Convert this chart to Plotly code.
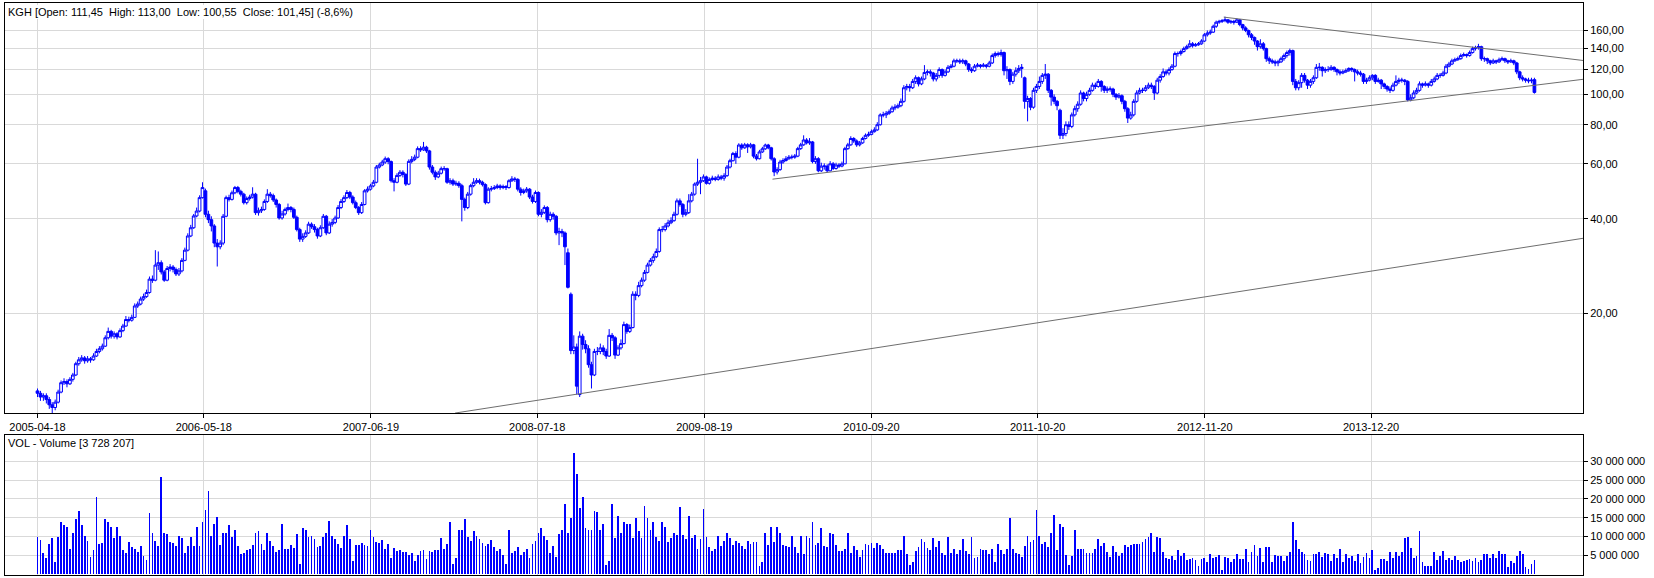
import pandas as pd
import plotly.graph_objects as go

# ---------------- data (weekly bars, KGH) ----------------
start_date = "2005-04-18"

open_ = [
11.3, 11.1, 10.8, 10.9, 10.6, 10.2, 10.0, 10.4, 11.2, 12.0,
12.1, 11.9, 12.3, 12.7, 13.8, 14.2, 14.4, 14.1, 14.3, 14.2,
14.6, 15.1, 15.4, 15.7, 16.7, 17.5, 16.9, 17.2, 16.8, 17.6,
18.2, 19.1, 19.0, 19.4, 21.1, 21.4, 22.2, 22.6, 23.3, 25.7,
25.5, 28.5, 29.0, 27.1, 25.5, 27.8, 28.1, 27.6, 26.7, 27.3,
29.5, 31.8, 35.3, 37.5, 40.9, 42.4, 46.8, 49.2, 41.4, 39.8,
38.0, 33.5, 32.6, 33.5, 40.8, 46.8, 46.2, 48.5, 50.4, 49.0,
48.0, 45.1, 46.5, 47.0, 48.0, 41.9, 42.5, 42.9, 45.5, 48.0,
47.5, 46.0, 44.5, 40.3, 41.5, 42.9, 43.5, 42.9, 40.5, 37.0,
34.5, 35.2, 36.1, 38.5, 37.8, 37.0, 35.3, 37.5, 40.8, 36.1,
38.5, 39.0, 40.3, 43.5, 45.5, 46.8, 48.6, 47.0, 45.1, 43.5,
41.9, 44.5, 49.2, 49.8, 51.0, 52.4, 58.6, 59.5, 60.8, 62.3,
61.0, 53.0, 52.4, 55.1, 56.4, 55.5, 51.7, 61.1, 62.0, 63.0,
67.1, 66.5, 67.8, 66.0, 58.6, 56.4, 54.5, 56.0, 57.9, 57.9,
52.4, 53.0, 51.7, 52.0, 51.1, 46.2, 43.5, 48.0, 51.1, 52.4,
53.0, 52.4, 51.5, 45.1, 49.8, 50.0, 50.4, 51.0, 50.4, 50.8,
50.4, 53.0, 53.7, 53.5, 49.8, 48.6, 49.2, 49.8, 47.0, 45.5,
48.6, 41.4, 42.0, 43.5, 39.8, 41.4, 40.8, 36.1, 36.5, 36.1,
31.2, 23.0, 15.2, 15.6, 11.0, 16.9, 15.9, 15.4, 13.7, 12.7,
15.1, 15.1, 15.5, 15.1, 14.6, 17.0, 16.7, 14.7, 15.5, 16.0,
18.4, 17.5, 18.0, 23.0, 22.8, 24.5, 25.5, 27.0, 28.5, 29.5,
30.3, 31.5, 37.0, 37.0, 38.0, 38.9, 39.5, 41.4, 45.7, 44.5,
41.4, 41.9, 45.7, 48.0, 51.7, 52.4, 53.0, 54.5, 52.0, 53.5,
54.0, 53.5, 54.5, 54.0, 55.0, 58.6, 61.4, 64.7, 63.0, 68.9,
67.5, 69.0, 68.0, 69.0, 63.5, 62.3, 65.5, 67.0, 68.9, 67.5,
62.3, 56.5, 57.5, 60.8, 61.5, 62.3, 63.0, 63.0, 63.5, 67.1,
69.0, 71.5, 70.0, 70.5, 61.0, 62.3, 57.0, 59.0, 59.0, 57.0,
60.0, 58.0, 59.5, 59.0, 60.0, 67.1, 69.0, 72.3, 71.0, 69.0,
70.0, 72.3, 74.0, 74.5, 76.0, 77.0, 80.0, 86.0, 86.0, 87.0,
88, 90.5, 91, 92, 95, 105, 106, 105, 110, 113,
108, 112, 117.5, 118, 117, 112, 115, 120, 115, 118,
122, 123, 128, 128, 127, 128, 125, 120, 119, 123,
124, 123, 124, 123, 126, 133, 135, 134, 136, 119,
120, 110, 116, 119, 121, 113, 95, 97, 91, 103,
106, 110, 115, 116, 103, 98, 95, 89, 74, 75,
80, 79, 86, 90, 93, 101, 97, 100, 103, 107,
106, 110, 106, 103, 104, 104, 100, 98, 99, 95,
90, 84, 86, 95, 101, 103, 103, 105, 107, 106,
101, 111, 114, 118, 117, 120, 123, 135, 135, 137,
140, 142, 145, 143, 144, 145, 148, 155, 157, 158,
165, 170, 171, 172, 173, 170, 171, 170, 173, 167,
163, 160, 155, 152, 148, 142, 145, 140, 130, 128,
127, 126, 127, 130, 133, 136, 138, 110, 105, 109,
115, 111, 107, 110, 113, 122, 122, 119, 120, 120,
122, 120, 118, 117, 118, 119, 121, 120, 118, 117,
116, 110, 111, 113, 115, 110, 111, 108, 106, 104,
103, 107, 110, 111, 111, 110, 96, 97.5, 101, 103,
108, 107, 108, 107, 110, 112, 115, 115, 117, 123,
125, 128, 129, 130, 133, 134, 133, 136, 140, 141,
142, 130, 130, 128, 126, 128, 127, 129, 130, 128,
127, 128, 126, 118, 113, 112, 111, 110.5, 111.45,
]

high = [
11.5, 11.3, 11.1, 11.1, 10.8, 10.4, 10.6, 11.4, 12.2, 12.4,
12.3, 12.5, 12.9, 14.0, 14.5, 14.7, 14.6, 14.6, 14.5, 14.9,
15.4, 15.7, 16.0, 17.0, 18.0, 17.7, 17.5, 17.4, 17.9, 18.5,
19.6, 19.5, 19.8, 21.5, 21.8, 22.6, 23.1, 23.8, 26.2, 26.4,
31.8, 31.5, 29.5, 27.5, 28.3, 28.7, 28.5, 28.0, 27.9, 30.0,
32.4, 36.0, 38.3, 41.5, 43.5, 47.6, 52.4, 50.0, 42.5, 40.8,
38.5, 34.5, 34.2, 41.5, 47.5, 47.8, 49.3, 51.0, 51.0, 49.6,
48.5, 47.2, 47.8, 50.5, 48.5, 43.5, 43.8, 46.2, 49.8, 48.8,
48.2, 46.5, 45.0, 42.5, 43.5, 44.8, 44.0, 43.5, 41.0, 37.5,
36.0, 36.8, 39.2, 39.0, 38.5, 37.5, 38.2, 41.5, 41.2, 39.3,
40.0, 41.0, 44.3, 46.3, 47.6, 49.5, 49.2, 47.6, 45.8, 44.0,
45.3, 49.8, 50.8, 51.8, 53.3, 59.5, 60.5, 61.8, 63.3, 63.0,
61.5, 54.0, 56.0, 57.3, 57.2, 56.0, 62.0, 63.5, 64.2, 68.2,
68.3, 70.5, 68.5, 66.5, 59.5, 57.2, 57.0, 58.8, 59.0, 58.3,
54.0, 53.8, 53.0, 52.8, 51.8, 46.8, 48.8, 51.8, 54.0, 54.0,
53.8, 53.0, 52.0, 50.5, 51.0, 51.3, 51.8, 51.6, 51.5, 51.3,
53.6, 54.8, 54.5, 54.0, 50.5, 50.0, 50.6, 50.2, 47.8, 49.3,
49.0, 43.0, 44.2, 44.0, 42.2, 42.0, 41.2, 37.5, 37.2, 36.5,
32.2, 23.3, 17.0, 16.0, 17.5, 17.2, 16.4, 15.8, 14.0, 15.4,
15.6, 16.0, 15.8, 15.4, 17.8, 17.3, 16.9, 15.8, 16.5, 18.8,
18.6, 18.4, 23.5, 23.5, 25.2, 26.0, 27.5, 29.0, 30.0, 31.0,
32.2, 37.6, 38.0, 38.8, 39.8, 40.5, 42.2, 46.5, 46.5, 45.0,
43.0, 48.0, 48.8, 52.3, 62.3, 54.5, 55.5, 55.0, 54.3, 55.0,
54.8, 55.5, 55.3, 56.0, 59.5, 62.3, 65.5, 65.8, 69.8, 69.8,
70.0, 69.8, 70.0, 69.5, 64.5, 66.5, 68.0, 69.6, 69.5, 68.0,
63.0, 58.5, 61.8, 62.5, 63.5, 64.0, 64.2, 64.5, 68.0, 70.0,
74.0, 72.5, 72.5, 71.0, 63.5, 63.0, 60.5, 60.2, 59.8, 61.2,
60.8, 60.5, 60.3, 61.0, 68.0, 70.0, 73.5, 73.0, 71.8, 71.0,
73.2, 75.0, 76.0, 77.2, 78.5, 81.5, 87.0, 88.0, 88.5, 89.5,
92, 93, 93.5, 97, 107, 108, 108, 112, 115, 114,
114, 124, 120, 120, 118, 117, 122, 121, 120, 124,
125, 130, 130, 130, 130, 129, 126, 122, 125, 126,
125, 126, 125, 128, 135, 137, 137, 139, 137, 123,
121, 118, 122, 124, 125, 114, 99, 98, 105, 108,
114, 117, 125, 117, 104, 100, 96, 90, 78, 82,
82, 87.5, 92, 95, 103, 102, 102, 105, 109, 109,
112, 111, 107, 106, 106, 105, 101, 101, 100, 96,
91, 88, 96.5, 103, 105, 105, 107, 109, 109, 107,
113, 116, 121, 120, 122, 125, 137, 137, 139, 142,
144, 149, 147, 146, 147, 150, 157, 160, 161, 167,
172, 173, 174, 177, 174, 173, 173, 175, 174, 168,
165, 161, 157, 153, 149, 150, 147, 141, 132, 130,
129, 129, 132, 135, 138, 140, 139, 112, 111, 117,
117, 112, 112, 115, 125, 126, 123, 122, 123, 124,
123, 121, 120, 120, 121, 122, 122, 121, 120, 119,
117, 113, 115, 116, 116, 113, 112, 109, 107, 106,
109, 115, 113, 113, 112, 111, 100, 103, 105, 110,
109, 110, 109, 112, 114, 117, 117, 119, 125, 127,
130, 131, 132, 135, 136, 135, 138, 142, 143, 145,
143, 132, 131, 129, 130, 129, 131, 132, 131, 129,
130, 129, 127, 119, 115, 113, 113, 113, 113.0,
]

low = [
10.8, 10.5, 10.5, 10.3, 9.9, 9.6, 9.8, 10.3, 11.1, 11.8,
11.6, 11.8, 12.1, 12.6, 13.6, 14.0, 13.8, 13.9, 13.9, 14.1,
14.5, 14.9, 15.2, 15.6, 16.5, 16.6, 16.6, 16.5, 16.7, 17.4,
18.1, 18.7, 18.8, 19.3, 20.8, 21.2, 21.9, 22.4, 23.1, 25.0,
25.3, 27.5, 26.6, 25.2, 25.3, 27.2, 27.0, 26.3, 26.3, 27.0,
29.3, 31.5, 35.0, 37.2, 40.5, 42.0, 46.5, 40.5, 38.8, 36.5,
32.5, 28.2, 32.0, 33.0, 40.5, 45.5, 45.8, 48.0, 48.3, 47.2,
44.5, 44.5, 45.8, 46.5, 41.2, 41.0, 41.8, 42.5, 45.0, 46.8,
45.3, 43.5, 39.8, 39.8, 41.0, 42.3, 42.0, 40.0, 36.5, 33.8,
33.8, 34.8, 35.8, 37.2, 36.2, 34.6, 35.0, 37.2, 35.5, 35.8,
37.8, 38.5, 40.0, 43.0, 45.0, 46.3, 46.3, 44.5, 43.0, 41.2,
41.5, 44.2, 48.6, 49.3, 50.5, 52.0, 58.0, 59.0, 60.0, 59.8,
52.3, 49.0, 52.0, 54.5, 54.3, 51.0, 51.3, 60.2, 61.2, 62.5,
65.5, 66.0, 65.0, 57.5, 55.5, 53.3, 54.0, 55.5, 57.0, 51.8,
51.5, 51.0, 51.0, 50.3, 39.3, 42.5, 43.0, 47.5, 50.5, 51.8,
51.6, 50.8, 44.5, 44.8, 49.0, 49.5, 49.8, 49.6, 49.8, 49.5,
50.0, 52.5, 52.5, 49.0, 47.5, 48.0, 48.5, 46.3, 44.8, 45.0,
40.8, 40.5, 41.5, 39.0, 39.2, 39.8, 35.5, 33.0, 35.0, 28.5,
24.0, 14.8, 14.8, 11.0, 10.8, 15.3, 14.9, 13.4, 11.5, 12.6,
14.7, 14.8, 14.7, 14.3, 14.5, 16.3, 14.3, 14.6, 15.3, 15.9,
17.2, 17.3, 17.9, 22.0, 22.5, 24.2, 25.2, 26.8, 28.2, 29.0,
30.0, 31.2, 36.3, 36.5, 37.6, 38.5, 39.2, 41.0, 43.8, 40.5,
40.8, 41.5, 45.2, 47.5, 51.0, 48.0, 52.5, 51.5, 51.5, 53.0,
52.8, 53.0, 53.2, 53.0, 54.5, 58.0, 61.0, 60.0, 62.5, 66.5,
67.0, 65.0, 67.2, 62.5, 61.5, 62.0, 65.0, 66.5, 66.8, 61.5,
54.8, 55.5, 57.0, 60.0, 61.0, 61.8, 62.0, 62.3, 63.0, 66.5,
68.5, 69.2, 69.0, 60.2, 60.0, 56.4, 56.5, 57.5, 56.4, 56.8,
57.3, 57.5, 58.2, 58.5, 59.8, 66.5, 68.5, 70.0, 68.0, 68.2,
69.5, 71.8, 73.2, 74.0, 75.5, 76.5, 79.5, 84.5, 84.0, 86.0,
87.5, 89, 90, 91, 94, 103, 102, 104, 108, 106,
107, 111, 115, 114, 110, 110, 113, 113, 114, 117,
121, 122, 126, 125, 125, 123, 118, 117, 118, 122,
121, 122, 121, 122, 125, 131, 132, 132, 115, 112,
107, 108, 114, 117, 113, 90, 82, 89, 90, 101,
104, 108, 112, 101, 92, 93, 89, 72, 72, 73.5,
77, 78, 85, 88, 92, 95, 95, 99, 102, 104,
105, 102, 101, 101, 102, 98, 96, 97, 93, 88,
81, 83, 85, 94, 100, 101, 102, 104, 104, 96,
100, 109, 113, 115, 115, 119, 122, 132, 133, 136,
139, 141, 141, 142, 143, 144, 147, 153, 155, 157,
163, 168, 169, 170, 168, 168, 167, 169, 165, 160,
158, 152, 149, 144, 138, 140, 138, 127, 125, 125,
123, 123, 126, 128, 131, 133, 107, 103, 103, 105,
109, 104, 105, 108, 112, 119, 114, 117, 118, 119,
118, 115, 115, 116, 117, 118, 118, 110, 115, 114,
108, 108, 110, 111, 108, 109, 104, 104, 102, 101,
102, 106, 108, 109, 107, 95, 95, 96.5, 100, 102,
105, 106, 105, 106, 109, 111, 113, 114, 116, 122,
124, 127, 128, 129, 132, 131, 132, 135, 138, 139,
128, 127, 125, 124, 125, 125, 126, 128, 126, 125,
126, 124, 116, 111, 110, 109, 108.5, 108.5, 100.55,
]

close = [
11.1, 10.8, 10.9, 10.6, 10.2, 10.0, 10.4, 11.2, 12.0, 12.1,
11.9, 12.3, 12.7, 13.8, 14.2, 14.4, 14.1, 14.3, 14.2, 14.6,
15.1, 15.4, 15.7, 16.7, 17.5, 16.9, 17.2, 16.8, 17.6, 18.2,
19.1, 19.0, 19.4, 21.1, 21.4, 22.2, 22.6, 23.3, 25.7, 25.5,
28.5, 29.0, 27.1, 25.5, 27.8, 28.1, 27.6, 26.7, 27.3, 29.5,
31.8, 35.3, 37.5, 40.9, 42.4, 46.8, 50.4, 41.4, 39.8, 38.0,
33.5, 32.6, 33.5, 40.8, 46.8, 46.2, 48.5, 50.4, 49.0, 48.0,
45.1, 46.5, 47.0, 48.0, 41.9, 42.5, 42.9, 45.5, 48.0, 47.5,
46.0, 44.5, 40.3, 41.5, 42.9, 43.5, 42.9, 40.5, 37.0, 34.5,
35.2, 36.1, 38.5, 37.8, 37.0, 35.3, 37.5, 40.8, 36.1, 38.5,
39.0, 40.3, 43.5, 45.5, 46.8, 48.6, 47.0, 45.1, 43.5, 41.9,
44.5, 49.2, 49.8, 51.0, 52.4, 58.6, 59.5, 60.8, 62.3, 61.0,
53.0, 52.4, 55.1, 56.4, 55.5, 51.7, 61.1, 62.0, 63.0, 67.1,
66.5, 67.8, 66.0, 58.6, 56.4, 54.5, 56.0, 57.9, 57.9, 52.4,
53.0, 51.7, 52.0, 51.1, 46.2, 43.5, 48.0, 51.1, 52.4, 53.0,
52.4, 51.5, 45.1, 49.8, 50.0, 50.4, 51.0, 50.4, 50.8, 50.4,
53.0, 53.7, 53.5, 49.8, 48.6, 49.2, 49.8, 47.0, 45.5, 48.6,
41.4, 42.0, 43.5, 39.8, 41.4, 40.8, 36.1, 36.5, 36.1, 32.6,
24.2, 15.2, 15.6, 11.7, 16.9, 15.9, 15.4, 13.7, 12.7, 15.1,
15.1, 15.5, 15.1, 14.6, 17.0, 16.7, 14.7, 15.5, 16.0, 18.4,
17.5, 18.0, 23.0, 22.8, 24.5, 25.5, 27.0, 28.5, 29.5, 30.3,
31.5, 37.0, 37.0, 38.0, 38.9, 39.5, 41.4, 45.7, 44.5, 41.4,
41.9, 45.7, 48.0, 51.7, 52.4, 53.0, 54.5, 52.0, 53.5, 54.0,
53.5, 54.5, 54.0, 55.0, 58.6, 61.4, 64.7, 63.0, 68.9, 67.5,
69.0, 68.0, 69.0, 63.5, 62.3, 65.5, 67.0, 68.9, 67.5, 62.3,
56.5, 57.5, 60.8, 61.5, 62.3, 63.0, 63.0, 63.5, 67.1, 69.0,
71.5, 70.0, 70.5, 61.0, 62.3, 57.0, 59.0, 59.0, 57.0, 60.0,
58.0, 59.5, 59.0, 60.0, 67.1, 69.0, 72.3, 71.0, 69.0, 70.0,
72.3, 74.0, 74.5, 76.0, 77.0, 80.0, 86.0, 86.0, 87.0, 88.0,
90.5, 91, 92, 95, 105, 106, 105, 110, 113, 108,
112, 117.5, 118, 117, 112, 115, 120, 115, 118, 122,
123, 128, 128, 127, 128, 125, 120, 119, 123, 124,
123, 124, 123, 126, 133, 135, 134, 136, 119, 120,
110, 116, 119, 121, 122, 95, 97, 91, 103, 106,
110, 115, 116, 103, 98, 95, 92, 74, 75, 80,
79, 86, 90, 93, 101, 97, 100, 103, 107, 106,
110, 106, 103, 104, 104, 100, 98, 99, 95, 90,
84, 86, 95, 101, 103, 103, 105, 107, 106, 101,
111, 114, 118, 117, 120, 123, 135, 135, 137, 140,
142, 145, 143, 144, 145, 148, 155, 157, 158, 165,
170, 171, 172, 173, 170, 171, 170, 173, 167, 163,
160, 155, 152, 148, 142, 145, 140, 130, 128, 127,
126, 127, 130, 133, 136, 138, 110, 105, 109, 115,
111, 107, 110, 113, 122, 122, 119, 120, 120, 122,
120, 118, 117, 118, 119, 121, 120, 118, 117, 116,
110, 111, 113, 115, 110, 111, 108, 106, 104, 103,
107, 110, 111, 111, 110, 96, 97.5, 101, 103, 108,
107, 108, 107, 110, 112, 115, 115, 117, 123, 125,
128, 129, 130, 133, 134, 133, 136, 140, 141, 142,
130, 130, 128, 126, 128, 127, 129, 130, 128, 127,
128, 126, 118, 113, 112, 111, 110.5, 111, 101.45,
]

# weekly volume, millions of shares
volume_m = [
9.8, 9.0, 5.5, 4.3, 8.0, 9.6, 3.2, 9.8, 13.8, 13.2,
12.7, 6.7, 11.1, 14.6, 16.9, 13.0, 10.1, 8.8, 4.6, 6.4,
20.6, 8.0, 8.2, 14.8, 13.8, 12.5, 9.6, 12.7, 10.1, 6.4,
5.6, 8.5, 7.2, 6.7, 5.9, 7.5, 4.8, 3.8, 16.4, 10.9,
8.8, 7.5, 25.9, 11.1, 10.6, 8.5, 8.2, 7.5, 10.3, 9.6,
5.6, 7.5, 9.8, 7.5, 12.7, 7.5, 13.8, 17.2, 22.2, 10.1,
13.5, 15.3, 7.7, 11.1, 10.9, 13.2, 9.8, 11.9, 7.5, 5.3,
5.6, 6.4, 6.7, 7.7, 11.1, 11.4, 8.0, 6.4, 11.1, 8.8,
7.5, 5.9, 6.4, 13.5, 6.7, 6.7, 7.7, 6.9, 10.6, 2.7,
12.2, 11.7, 9.8, 10.3, 9.3, 7.2, 7.5, 9.8, 11.1, 14.3,
10.3, 9.3, 8.0, 6.9, 10.3, 13.0, 9.3, 3.5, 7.7, 7.7,
8.2, 7.7, 7.5, 11.7, 9.8, 8.5, 8.2, 9.0, 6.7, 8.0,
4.3, 6.9, 6.1, 6.4, 5.9, 5.9, 5.1, 5.6, 3.5, 5.1,
6.1, 6.4, 4.0, 6.1, 5.9, 6.4, 6.4, 9.6, 6.7, 8.0,
14.0, 2.7, 4.3, 11.7, 11.7, 14.6, 9.8, 8.8, 11.4, 10.3,
9.3, 8.2, 7.5, 8.0, 9.0, 7.2, 6.1, 6.7, 5.1, 2.7,
11.7, 5.6, 6.1, 7.2, 5.1, 5.9, 6.7, 4.3, 8.0, 8.8,
11.1, 12.2, 10.3, 9.0, 5.6, 7.5, 4.6, 10.6, 11.7, 18.8,
10.9, 15.1, 32.5, 26.7, 17.7, 20.6, 12.2, 11.9,
11.7, 16.9, 16.7, 11.7, 13.5, 2.5, 3.5, 18.8, 9.6, 15.6,
11.1, 13.8, 13.5, 13.5, 9.6, 15.1, 11.4, 9.6, 18.2, 15.1,
11.9, 13.8, 9.9, 8.9, 13.8, 12.7, 8.5, 9.6, 11.1, 10.4,
18.0, 10.4, 9.4, 15.6, 9.6, 10.4, 6.7, 9.3, 17.3, 9.8,
7.3, 6.1, 6.8, 10.1, 7.5, 8.9, 11.1, 9.6, 7.8, 8.9,
8.2, 7.5, 6.8, 8.9, 8.0, 8.5, 8.7, 2.2, 3.2, 11.0,
7.7, 12.5, 8.5, 12.7, 10.9, 7.7, 7.5, 7.2, 10.1, 7.2,
5.7, 10.1, 5.4, 10.3, 9.6, 13.8, 7.7, 8.3, 12.2, 7.5,
7.2, 11.1, 10.6, 7.7, 6.1, 6.1, 6.8, 11.1, 5.6, 7.4,
6.5, 4.6, 6.4, 8.0, 7.7, 8.4, 6.9, 8.2, 7.8, 6.8,
5.5, 5.7, 5.6, 5.7, 6.3, 6.4, 10.1, 5.3, 2.5, 3.2,
6.1, 7.2, 9.3, 8.5, 6.9, 6.4, 9.6, 7.3, 8.9, 5.6,
5.2, 9.9, 5.7, 6.8, 5.4, 6.3, 9.3, 6.1, 5.4, 9.9,
4.4, 4.5, 6.7, 6.4, 6.4, 5.4, 6.7, 3.3, 8.1, 6.4,
5.3, 6.8, 14.9, 6.6, 5.7, 5.4, 4.6, 7.6, 10.1, 8.5,
9.0, 17.2, 10.1, 8.0, 8.5, 7.2, 11.1, 15.9, 6.4, 13.4,
12.7, 5.1, 2.5, 4.9, 11.7, 6.6, 6.7, 6.7, 5.5, 5.6,
5.6, 6.8, 9.3, 7.5, 8.2, 5.9, 4.6, 7.6, 5.9, 4.9,
5.6, 7.7, 7.2, 7.7, 8.0, 8.1, 8.1, 8.5, 9.3, 9.8,
10.9, 6.0, 9.8, 9.6, 5.9, 4.3, 3.9, 4.8, 3.8, 6.4,
4.8, 5.6, 3.8, 4.0, 4.3, 3.8, 2.2, 4.0, 4.3, 3.2,
5.4, 4.3, 4.6, 5.2, 1.1, 4.6, 4.4, 3.2, 4.1, 5.3,
3.9, 4.1, 6.7, 3.1, 5.9, 7.7, 4.8, 6.9, 3.1, 7.2,
7.2, 3.1, 5.1, 4.8, 4.8, 3.5, 4.8, 5.9, 14.0, 9.0,
6.7, 5.9, 5.3, 3.8, 3.5, 5.3, 5.3, 5.9, 4.5, 5.6,
5.3, 3.5, 5.3, 4.3, 6.7, 3.1, 5.3, 4.3, 4.8, 3.4,
5.3, 3.0, 4.6, 5.6, 4.3, 6.4, 1.1, 1.7, 4.0, 4.0,
3.5, 5.9, 4.3, 5.9, 4.8, 5.9, 9.6, 9.8, 6.9, 4.3,
4.8, 11.4, 3.2, 2.1, 2.2, 2.2, 5.9, 3.8, 4.8, 6.1,
3.8, 4.3, 3.8, 4.8, 3.8, 3.2, 3.6, 3.8, 4.1, 3.4,
4.3, 3.2, 3.8, 5.3, 5.3, 4.3, 5.3, 4.3, 6.1, 5.3,
5.3, 1.9, 3.5, 3.0, 4.8, 6.1, 5.3, 1.8, 1.4,
2.7, 3.728207,
]

n = len(close)
assert len(open_) == n and len(high) == n and len(low) == n and len(volume_m) == n, \
    (len(open_), len(high), len(low), len(close), len(volume_m))

dates = pd.date_range(start_date, periods=n, freq="7D")

# axis ticks
date_ticks = ["2005-04-18", "2006-05-18", "2007-06-19", "2008-07-18", "2009-08-19",
              "2010-09-20", "2011-10-20", "2012-11-20", "2013-12-20"]
price_ticks = [20, 40, 60, 80, 100, 120, 140, 160]
price_tick_text = ["20,00", "40,00", "60,00", "80,00", "100,00", "120,00", "140,00", "160,00"]
vol_ticks = [5, 10, 15, 20, 25, 30]
vol_tick_text = ["5 000 000", "10 000 000", "15 000 000", "20 000 000", "25 000 000", "30 000 000"]

# hand-drawn trend lines (date, price)
trend_support_x = ["2008-01-05", "2015-05-07 10:00"]
trend_support_y = [9.60, 34.7]
trend_mid_x = ["2010-01-28", "2015-05-07 10:00"]
trend_mid_y = [53.6, 111.7]
trend_top_x = ["2013-01-04", "2015-05-07 10:00"]
trend_top_y = [176.5, 128.3]

title_text = "KGH [Open: 111,45\u00a0 High: 113,00\u00a0 Low: 100,55\u00a0 Close: 101,45] (-8,6%)"
vol_text = "VOL - Volume [3 728 207]"

# ---------------- figure ----------------
BLUE = "#0000ff"
GRID = "#d9d9d9"
TREND = "#6e6e6e"
FONT = "Liberation Sans, Arial, sans-serif"

t0 = pd.Timestamp(start_date)
x_range = [t0 + pd.Timedelta(days=-77.2), t0 + pd.Timedelta(days=3671.4)]

fig = go.Figure()

fig.add_trace(go.Candlestick(
    x=dates, open=open_, high=high, low=low, close=close,
    xaxis="x", yaxis="y",
    increasing=dict(line=dict(color=BLUE, width=1), fillcolor="#ffffff"),
    decreasing=dict(line=dict(color=BLUE, width=1), fillcolor=BLUE),
    whiskerwidth=0, showlegend=False, hoverinfo="skip",
))

for tx, ty in [(trend_support_x, trend_support_y),
               (trend_mid_x, trend_mid_y),
               (trend_top_x, trend_top_y)]:
    fig.add_trace(go.Scatter(x=tx, y=ty, mode="lines", xaxis="x", yaxis="y",
                             line=dict(color=TREND, width=1),
                             showlegend=False, hoverinfo="skip"))

fig.add_trace(go.Bar(
    x=dates, y=volume_m, xaxis="x2", yaxis="y2",
    width=1.9 * 86400000,
    marker=dict(color=BLUE, line=dict(width=0)),
    showlegend=False, hoverinfo="skip",
))

common_x = dict(
    type="date", range=x_range, tickvals=date_ticks, ticktext=date_ticks,
    showgrid=True, gridcolor=GRID, gridwidth=1,
    showline=True, linecolor="#000000", linewidth=1, mirror=True,
    zeroline=False, tickfont=dict(family=FONT, size=11, color="#000000"),
)

fig.update_layout(
    width=1654, height=578,
    margin=dict(l=5, r=71, t=3, b=3),
    paper_bgcolor="#ffffff", plot_bgcolor="#ffffff",
    showlegend=False,
    bargap=0,
    boxgap=0.0,
    boxgroupgap=0.08,
    font=dict(family=FONT, size=11, color="#000000"),
    xaxis=dict(**common_x, anchor="y", domain=[0, 1],
               ticks="outside", ticklen=4, tickcolor="#000000",
               rangeslider=dict(visible=False)),
    xaxis2=dict(**common_x, anchor="y2", domain=[0, 1], matches="x",
                showticklabels=False, ticks=""),
    yaxis=dict(type="log", domain=[0.2832, 1], anchor="x", side="right",
               range=[0.9824, 2.2918],
               tickvals=price_ticks, ticktext=price_tick_text,
               ticks="outside", ticklen=4, tickcolor="#000000",
               showgrid=True, gridcolor=GRID, gridwidth=1,
               showline=True, linecolor="#000000", linewidth=1, mirror=True,
               zeroline=False, tickfont=dict(family=FONT, size=11, color="#000000")),
    yaxis2=dict(domain=[0, 0.2453], anchor="x2", side="right",
                range=[-0.34, 37.2],
                tickvals=vol_ticks, ticktext=vol_tick_text,
                ticks="outside", ticklen=4, tickcolor="#000000",
                showgrid=True, gridcolor=GRID, gridwidth=1,
                showline=True, linecolor="#000000", linewidth=1, mirror=True,
                zeroline=False, tickfont=dict(family=FONT, size=11, color="#000000")),
    annotations=[
        dict(text=title_text, xref="paper", yref="paper", x=0.0012, y=1,
             xanchor="left", yanchor="top", yshift=-1.5, showarrow=False,
             bgcolor="#ffffff", borderpad=1, borderwidth=0,
             font=dict(family=FONT, size=11, color="#000000")),
        dict(text=vol_text, xref="paper", yref="paper", x=0.0012, y=0.2453,
             xanchor="left", yanchor="top", yshift=-1.5, showarrow=False,
             bgcolor="#ffffff", borderpad=1, borderwidth=0,
             font=dict(family=FONT, size=11, color="#000000")),
    ],
)

fig.write_html("out.html", config={"displayModeBar": False})
